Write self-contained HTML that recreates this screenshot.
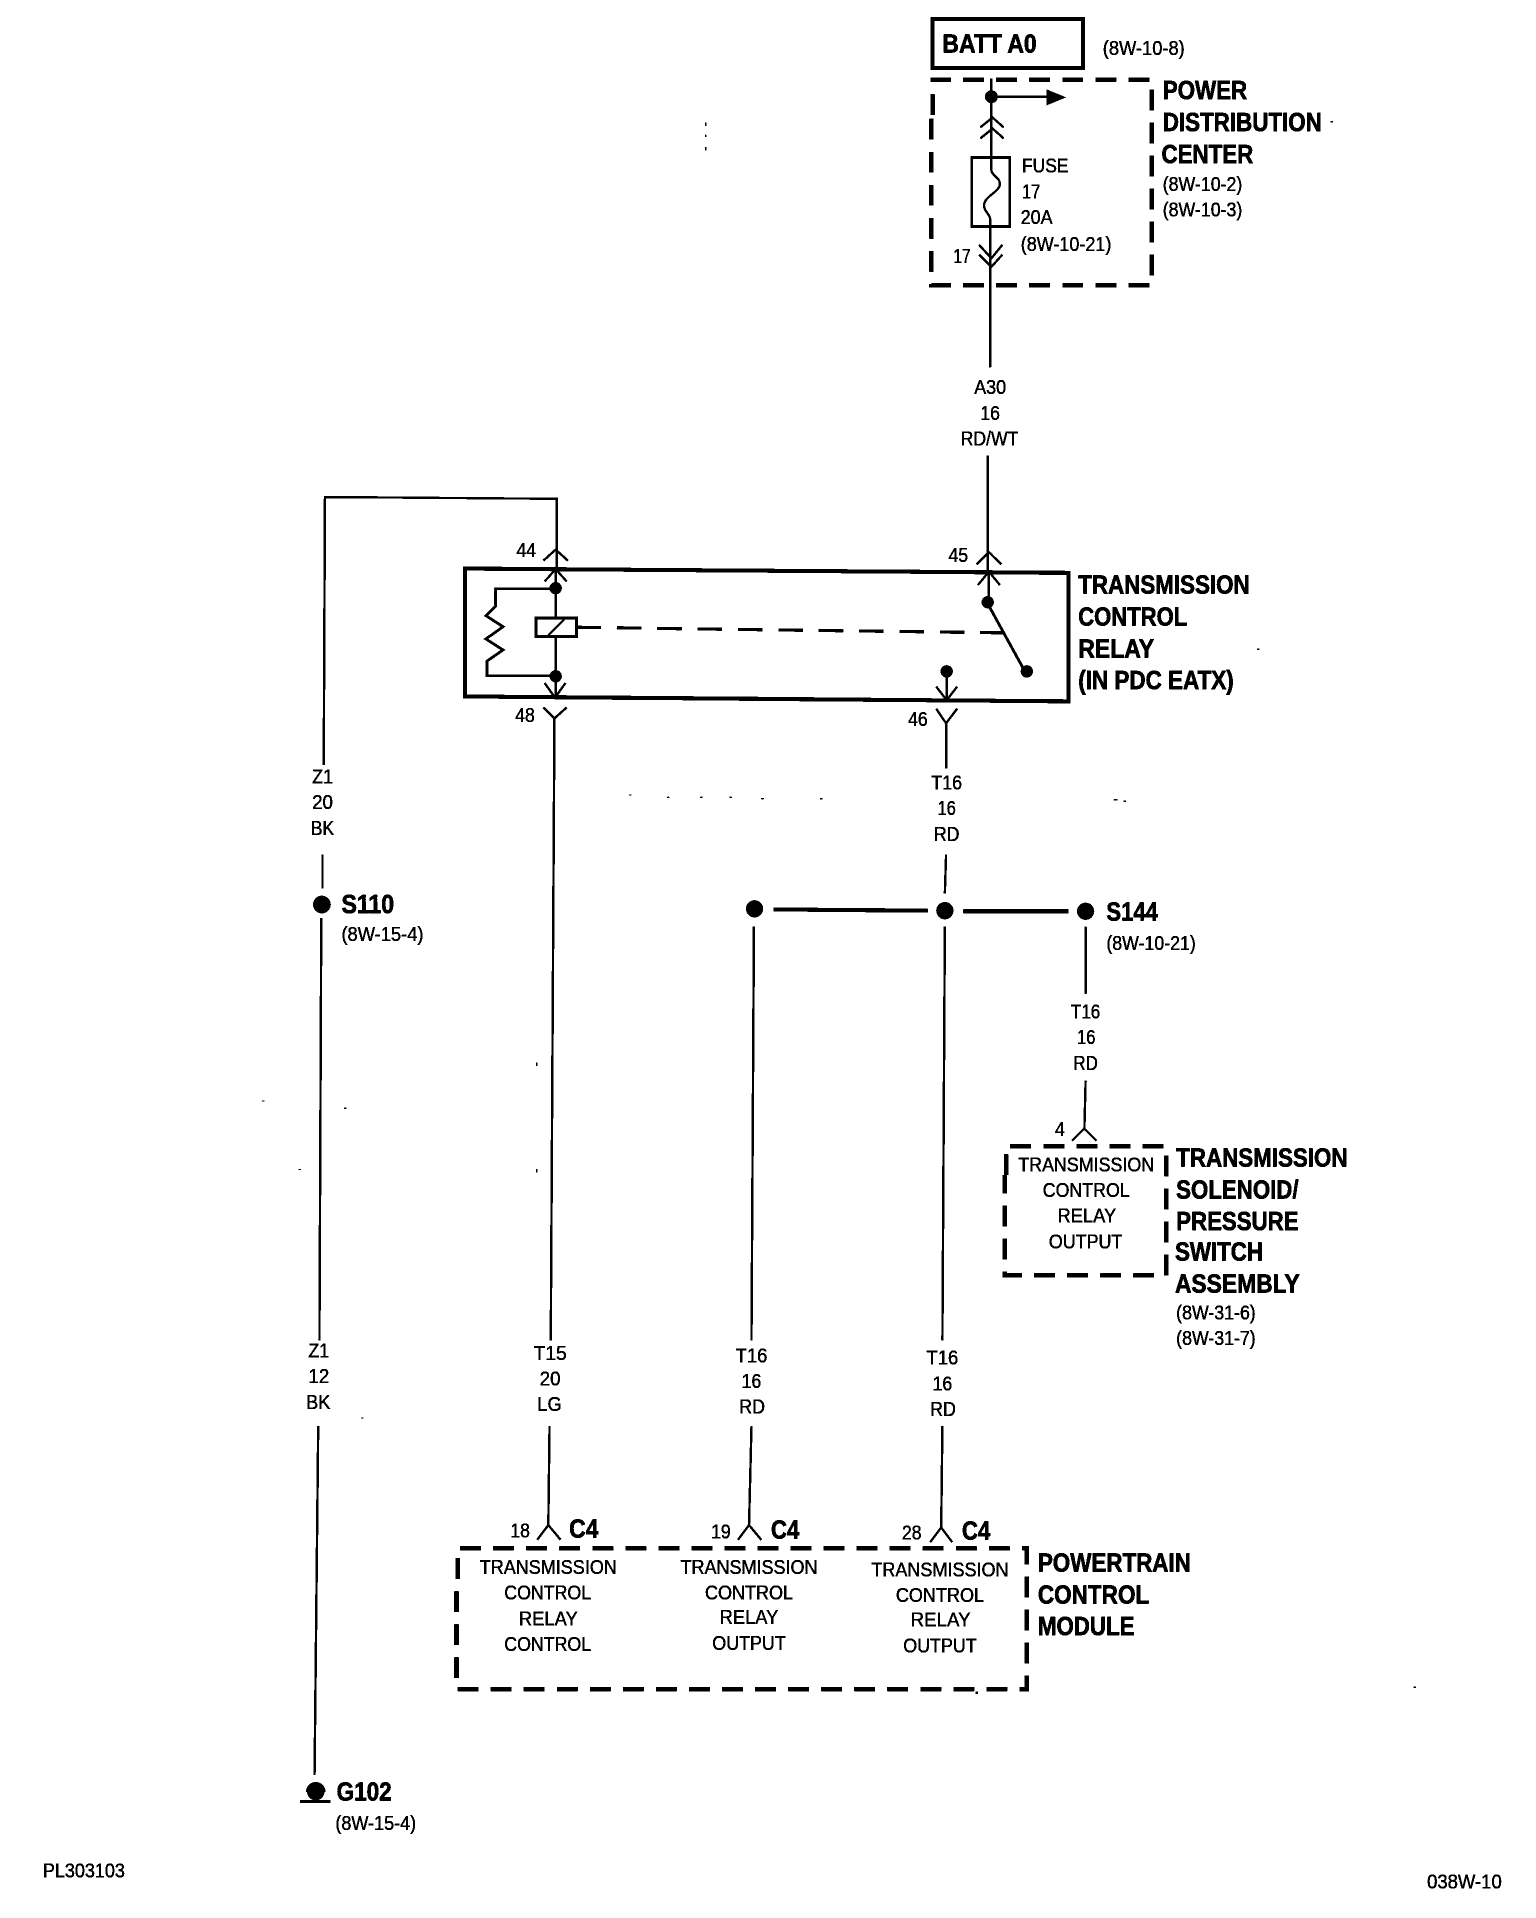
<!DOCTYPE html>
<html><head><meta charset="utf-8"><title>Transmission control relay wiring diagram</title>
<style>
html,body{margin:0;padding:0;background:#fff}
svg{display:block;position:absolute;left:0;top:0}
text{font-family:"Liberation Sans",Arial,sans-serif;fill:#000}
.n{font-size:16.8px;stroke:#000;stroke-width:.25px}
.b{font-size:21.5px;font-weight:bold;stroke:#000;stroke-width:.45px}
.w{fill:none;stroke:#000;stroke-width:1.8}
.t{fill:none;stroke:#000;stroke-width:3.2}
.d{fill:none;stroke:#000;stroke-width:3.6;stroke-dasharray:17 10}
</style></head><body>
<svg xmlns="http://www.w3.org/2000/svg" width="1536" height="1918" viewBox="0 0 1255 1567">
<defs><filter id="bw" x="0" y="0" width="100%" height="100%" filterUnits="objectBoundingBox"><feComponentTransfer><feFuncA type="discrete" tableValues="0 1 1"/></feComponentTransfer></filter></defs>
<rect width="1255" height="1567" fill="#fff"/>
<g filter="url(#bw)">
<rect width="1255" height="1567" fill="none" stroke="#fff" stroke-width="0.01"/>

<!-- BATT / PDC -->
<rect x="762" y="15.5" width="123" height="40" class="t"/>
<path class="d" d="M762 94V65H941V233H761V94"/>
<path class="w" d="M810 64V128M809 185V300"/>
<circle cx="810" cy="79" r="5.2"/>
<path class="w" d="M810 79H856" stroke-width="2"/>
<path d="M855 73L871 79.5L855 86Z"/>
<path class="w" d="M801 104L811 96L820 104M801 113L811 105L820 113"/>
<rect x="794" y="128.5" width="31" height="56.5" class="w" style="stroke-width:2.2"/>
<path class="w" d="M810 128V139C810 143 817 145 817 150C817 157 804 160 804 168C804 173 809 175 809 179V185"/>
<path class="w" d="M800 200L810 211L819 200M800 208L810 218L819 208"/>
<path class="w" d="M807 372V467"/>

<!-- left wire -->
<path class="w" d="M264.5 625L265.5 406L455 407.5V464"/>
<path class="w" d="M263.5 698V726M262.5 750L261 1095M260 1165L257 1450"/>
<circle cx="263" cy="739" r="7.2"/>
<path d="M250 1464A8 8 0 0 1 266 1464Z"/><circle cx="258" cy="1464" r="7"/>
<path class="t" d="M245 1472H270" style="stroke-width:2.4"/>

<!-- relay box -->
<path class="t" d="M380 464.5L873 468V573L380 569Z"/>
<path class="w" d="M444 458L454 449L464 458M445 475L454 465L463 475"/>
<path class="w" d="M798 461L808 451L818 461M799 478L808 467L817 478"/>
<path class="w" d="M454 464V569"/>
<circle cx="454" cy="480.5" r="5"/><circle cx="454" cy="552.5" r="5"/>
<path class="t" style="stroke-width:2.2" d="M451 481H405V495L397 503L411 512L397 522L411 531L398 540V552H451"/>
<rect x="438" y="505" width="33" height="15" fill="#fff" stroke="#000" stroke-width="2.4"/>
<path class="w" d="M448 519L461 506"/>
<path class="t" style="stroke-width:2.5;stroke-dasharray:20 13" d="M471 512.5L822 517"/>
<path class="w" d="M808 466V491"/>
<circle cx="807" cy="492" r="5"/><circle cx="839" cy="548.5" r="5"/>
<path class="w" d="M808 495L836 546" style="stroke-width:2.2"/>
<circle cx="773.5" cy="548.5" r="5"/>
<path class="w" d="M773.5 550V573M765 561L773.5 572L782 561"/>
<path class="w" d="M445 558L453.5 570L462 558"/>
<path class="w" d="M444 578L453 587L463 578M765 579L773 591L782 579"/>
<path class="w" d="M453 587L450 1095M449 1165L448 1246"/>
<path class="w" d="M773 591V628M773 698L772 730"/>

<!-- splice S144 -->
<circle cx="616.5" cy="742.5" r="7"/><circle cx="772" cy="744" r="7"/><circle cx="887" cy="744.5" r="7"/>
<path class="t" d="M632 743L758 744M787 744.5H873"/>
<path class="w" d="M616 757L614 1095M614 1165L612 1246"/>
<path class="w" d="M772 757L770 1095M770 1165L769 1248"/>
<path class="w" d="M887 757V812M887 883L886 923"/>

<!-- bottom connectors -->
<path class="w" d="M876 932L886 922L896 932"/>
<path class="w" d="M439 1258L448 1246L458 1258M603 1258L612 1246L622 1258M760 1260L769 1248L778 1260"/>

<!-- dashed boxes -->
<path class="d" d="M822 960V936.5H953V1042H821V960"/>
<path class="d" d="M374 1290V1265H839V1380H373V1290"/>

<!-- labels -->
<text class="b" x="770" y="43" textLength="77" lengthAdjust="spacingAndGlyphs">BATT A0</text>
<text class="n" x="901" y="45" textLength="67" lengthAdjust="spacingAndGlyphs">(8W-10-8)</text>
<text class="b" x="950" y="81" textLength="69" lengthAdjust="spacingAndGlyphs">POWER</text>
<text class="b" x="950" y="107" textLength="130" lengthAdjust="spacingAndGlyphs">DISTRIBUTION</text>
<text class="b" x="949" y="133" textLength="75" lengthAdjust="spacingAndGlyphs">CENTER</text>
<text class="n" x="950" y="156" textLength="65" lengthAdjust="spacingAndGlyphs">(8W-10-2)</text>
<text class="n" x="950" y="177" textLength="65" lengthAdjust="spacingAndGlyphs">(8W-10-3)</text>
<text class="n" x="835" y="141" textLength="38" lengthAdjust="spacingAndGlyphs">FUSE</text>
<text class="n" x="835" y="162" textLength="15" lengthAdjust="spacingAndGlyphs">17</text>
<text class="n" x="834" y="183" textLength="26" lengthAdjust="spacingAndGlyphs">20A</text>
<text class="n" x="834" y="205" textLength="74" lengthAdjust="spacingAndGlyphs">(8W-10-21)</text>
<text class="n" x="779" y="215" textLength="14" lengthAdjust="spacingAndGlyphs">17</text>
<text class="n" x="796" y="322" textLength="26" lengthAdjust="spacingAndGlyphs">A30</text>
<text class="n" x="801" y="343" textLength="16" lengthAdjust="spacingAndGlyphs">16</text>
<text class="n" x="785" y="364" textLength="47" lengthAdjust="spacingAndGlyphs">RD/WT</text>
<text class="n" x="775" y="459" textLength="16" lengthAdjust="spacingAndGlyphs">45</text>
<text class="n" x="422" y="455" textLength="16" lengthAdjust="spacingAndGlyphs">44</text>
<text class="n" x="421" y="590" textLength="16" lengthAdjust="spacingAndGlyphs">48</text>
<text class="n" x="742" y="593" textLength="16" lengthAdjust="spacingAndGlyphs">46</text>
<text class="b" x="881" y="485" textLength="140" lengthAdjust="spacingAndGlyphs">TRANSMISSION</text>
<text class="b" x="881" y="511" textLength="89" lengthAdjust="spacingAndGlyphs">CONTROL</text>
<text class="b" x="881" y="537" textLength="62" lengthAdjust="spacingAndGlyphs">RELAY</text>
<text class="b" x="881" y="563" textLength="127" lengthAdjust="spacingAndGlyphs">(IN PDC EATX)</text>
<text class="n" x="255" y="640" textLength="17" lengthAdjust="spacingAndGlyphs">Z1</text>
<text class="n" x="255" y="661" textLength="17" lengthAdjust="spacingAndGlyphs">20</text>
<text class="n" x="254" y="682" textLength="19" lengthAdjust="spacingAndGlyphs">BK</text>
<text class="b" x="279" y="746" textLength="43" lengthAdjust="spacingAndGlyphs">S110</text>
<text class="n" x="279" y="769" textLength="67" lengthAdjust="spacingAndGlyphs">(8W-15-4)</text>
<text class="n" x="761" y="645" textLength="25" lengthAdjust="spacingAndGlyphs">T16</text>
<text class="n" x="766" y="666" textLength="15" lengthAdjust="spacingAndGlyphs">16</text>
<text class="n" x="763" y="687" textLength="21" lengthAdjust="spacingAndGlyphs">RD</text>
<text class="b" x="904" y="752" textLength="42" lengthAdjust="spacingAndGlyphs">S144</text>
<text class="n" x="904" y="776" textLength="73" lengthAdjust="spacingAndGlyphs">(8W-10-21)</text>
<text class="n" x="875" y="832" textLength="24" lengthAdjust="spacingAndGlyphs">T16</text>
<text class="n" x="880" y="853" textLength="15" lengthAdjust="spacingAndGlyphs">16</text>
<text class="n" x="877" y="874" textLength="20" lengthAdjust="spacingAndGlyphs">RD</text>
<text class="n" x="862" y="928" textLength="8" lengthAdjust="spacingAndGlyphs">4</text>
<text class="n" x="832" y="957" textLength="111" lengthAdjust="spacingAndGlyphs">TRANSMISSION</text>
<text class="n" x="852" y="978" textLength="71" lengthAdjust="spacingAndGlyphs">CONTROL</text>
<text class="n" x="864" y="999" textLength="48" lengthAdjust="spacingAndGlyphs">RELAY</text>
<text class="n" x="857" y="1020" textLength="60" lengthAdjust="spacingAndGlyphs">OUTPUT</text>
<text class="b" x="961" y="953" textLength="140" lengthAdjust="spacingAndGlyphs">TRANSMISSION</text>
<text class="b" x="961" y="979" textLength="100" lengthAdjust="spacingAndGlyphs">SOLENOID/</text>
<text class="b" x="961" y="1005" textLength="100" lengthAdjust="spacingAndGlyphs">PRESSURE</text>
<text class="b" x="960" y="1030" textLength="72" lengthAdjust="spacingAndGlyphs">SWITCH</text>
<text class="b" x="960" y="1056" textLength="102" lengthAdjust="spacingAndGlyphs">ASSEMBLY</text>
<text class="n" x="961" y="1078" textLength="65" lengthAdjust="spacingAndGlyphs">(8W-31-6)</text>
<text class="n" x="961" y="1099" textLength="65" lengthAdjust="spacingAndGlyphs">(8W-31-7)</text>
<text class="n" x="252" y="1109" textLength="17" lengthAdjust="spacingAndGlyphs">Z1</text>
<text class="n" x="252" y="1130" textLength="17" lengthAdjust="spacingAndGlyphs">12</text>
<text class="n" x="250" y="1151" textLength="20" lengthAdjust="spacingAndGlyphs">BK</text>
<text class="n" x="436" y="1111" textLength="27" lengthAdjust="spacingAndGlyphs">T15</text>
<text class="n" x="441" y="1132" textLength="17" lengthAdjust="spacingAndGlyphs">20</text>
<text class="n" x="439" y="1153" textLength="20" lengthAdjust="spacingAndGlyphs">LG</text>
<text class="n" x="601" y="1113" textLength="26" lengthAdjust="spacingAndGlyphs">T16</text>
<text class="n" x="606" y="1134" textLength="16" lengthAdjust="spacingAndGlyphs">16</text>
<text class="n" x="604" y="1155" textLength="21" lengthAdjust="spacingAndGlyphs">RD</text>
<text class="n" x="757" y="1115" textLength="26" lengthAdjust="spacingAndGlyphs">T16</text>
<text class="n" x="762" y="1136" textLength="16" lengthAdjust="spacingAndGlyphs">16</text>
<text class="n" x="760" y="1157" textLength="21" lengthAdjust="spacingAndGlyphs">RD</text>
<text class="n" x="417" y="1256" textLength="16" lengthAdjust="spacingAndGlyphs">18</text>
<text class="b" x="465" y="1256" textLength="24" lengthAdjust="spacingAndGlyphs">C4</text>
<text class="n" x="581" y="1257" textLength="16" lengthAdjust="spacingAndGlyphs">19</text>
<text class="b" x="630" y="1257" textLength="23" lengthAdjust="spacingAndGlyphs">C4</text>
<text class="n" x="737" y="1258" textLength="16" lengthAdjust="spacingAndGlyphs">28</text>
<text class="b" x="786" y="1258" textLength="23" lengthAdjust="spacingAndGlyphs">C4</text>
<text class="n" x="392" y="1286" textLength="112" lengthAdjust="spacingAndGlyphs">TRANSMISSION</text>
<text class="n" x="412" y="1307" textLength="71" lengthAdjust="spacingAndGlyphs">CONTROL</text>
<text class="n" x="424" y="1328" textLength="48" lengthAdjust="spacingAndGlyphs">RELAY</text>
<text class="n" x="412" y="1349" textLength="71" lengthAdjust="spacingAndGlyphs">CONTROL</text>
<text class="n" x="556" y="1286" textLength="112" lengthAdjust="spacingAndGlyphs">TRANSMISSION</text>
<text class="n" x="576" y="1307" textLength="72" lengthAdjust="spacingAndGlyphs">CONTROL</text>
<text class="n" x="588" y="1327" textLength="48" lengthAdjust="spacingAndGlyphs">RELAY</text>
<text class="n" x="582" y="1348" textLength="60" lengthAdjust="spacingAndGlyphs">OUTPUT</text>
<text class="n" x="712" y="1288" textLength="112" lengthAdjust="spacingAndGlyphs">TRANSMISSION</text>
<text class="n" x="732" y="1309" textLength="72" lengthAdjust="spacingAndGlyphs">CONTROL</text>
<text class="n" x="744" y="1329" textLength="49" lengthAdjust="spacingAndGlyphs">RELAY</text>
<text class="n" x="738" y="1350" textLength="60" lengthAdjust="spacingAndGlyphs">OUTPUT</text>
<text class="b" x="848" y="1284" textLength="125" lengthAdjust="spacingAndGlyphs">POWERTRAIN</text>
<text class="b" x="848" y="1310" textLength="91" lengthAdjust="spacingAndGlyphs">CONTROL</text>
<text class="b" x="848" y="1336" textLength="79" lengthAdjust="spacingAndGlyphs">MODULE</text>
<text class="b" x="275" y="1471" textLength="45" lengthAdjust="spacingAndGlyphs">G102</text>
<text class="n" x="274" y="1495" textLength="66" lengthAdjust="spacingAndGlyphs">(8W-15-4)</text>
<text class="n" x="35" y="1534" textLength="67" lengthAdjust="spacingAndGlyphs">PL303103</text>
<text class="n" x="1166" y="1543" textLength="61" lengthAdjust="spacingAndGlyphs">038W-10</text>

<!-- scan specks -->
<g>
<rect x="576" y="100" width="1" height="3"/><rect x="576" y="110" width="1" height="2"/><rect x="576" y="120" width="1" height="3"/>
<rect x="514" y="649" width="2" height="1"/><rect x="545" y="651" width="2" height="1"/><rect x="572" y="651" width="2" height="1"/><rect x="596" y="651" width="2" height="1"/><rect x="622" y="652" width="2" height="1"/><rect x="670" y="652" width="2" height="1"/><rect x="910" y="653" width="3" height="1"/><rect x="918" y="654" width="2" height="1"/>
<rect x="438" y="868" width="1" height="3"/><rect x="438" y="955" width="1" height="3"/>
<rect x="214" y="899" width="2" height="1"/><rect x="244" y="955" width="2" height="1"/><rect x="281" y="905" width="2" height="1"/>
<rect x="1087" y="99" width="2" height="1"/><rect x="1027" y="530" width="2" height="1"/>
<rect x="295" y="1158" width="2" height="1"/><rect x="1155" y="1378" width="2" height="1"/>
<rect x="797" y="1382" width="2" height="2"/>
</g>
</g>
</svg>
</body></html>
